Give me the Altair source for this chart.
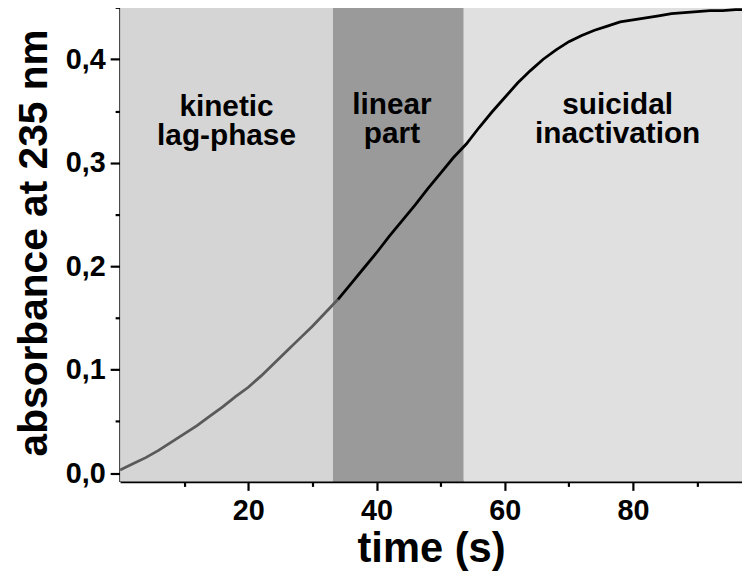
import altair as alt
import pandas as pd

# ---- data ----
time_s = [0, 2, 4, 6, 8, 10, 12, 14, 16, 18, 20, 22, 24, 26, 28, 30, 32, 34,
          36, 38, 40, 42, 44, 46, 48, 50, 52, 54, 56, 58, 60, 62, 64, 66, 68,
          70, 72, 74, 76, 78, 80, 82, 84, 86, 88, 90, 92, 94, 96, 97]
absorbance = [0.003, 0.009, 0.015, 0.022, 0.030, 0.038, 0.046, 0.055, 0.064,
              0.074, 0.083, 0.094, 0.106, 0.118, 0.130, 0.142, 0.155, 0.168,
              0.183, 0.198, 0.213, 0.229, 0.244, 0.259, 0.275, 0.290, 0.305,
              0.318, 0.334, 0.349, 0.363, 0.377, 0.389, 0.400, 0.409, 0.417,
              0.423, 0.428, 0.432, 0.436, 0.438, 0.440, 0.442, 0.444, 0.445,
              0.446, 0.447, 0.447, 0.448, 0.448]
lag_end = 34  # the trace is grey up to here, black afterwards

band_names = ["kinetic lag-phase", "linear part", "suicidal inactivation"]
band_start = [0, 33.2, 53.6]
band_end = [33.2, 53.6, 97]
band_colors = ["#d5d5d5", "#9a9a9a", "#e0e0e0"]

label_text = ["kinetic\nlag-phase", "linear\npart", "suicidal\ninactivation"]
label_t = [16.6, 42.4, 77.6]
label_a = [0.354, 0.356, 0.356]

x_ticks = [10, 20, 30, 40, 50, 60, 70, 80, 90]
y_ticks = [0.0, 0.05, 0.1, 0.15, 0.2, 0.25, 0.3, 0.35, 0.4, 0.45]

# ---- tables ----
rows = []
for t, a in zip(time_s, absorbance):
    if t <= lag_end:
        rows.append({"t": t, "a": a, "seg": "lag"})
    if t >= lag_end:
        rows.append({"t": t, "a": a, "seg": "main"})
curve = pd.DataFrame(rows)
bands = pd.DataFrame({"name": band_names, "start": band_start, "end": band_end})
labels = pd.DataFrame({"text": label_text, "t": label_t, "a": label_a})

W, H = 627, 482
FONT = "Liberation Sans"

xscale = alt.Scale(domain=[0, 97], nice=False, zero=False)
yscale = alt.Scale(domain=[-0.008, 0.454], nice=False, zero=False)

xaxis = alt.Axis(
    values=x_ticks,
    labelExpr="datum.value % 20 === 0 ? datum.label : ''",
    tickSize={"condition": {"test": "datum.value % 20 === 0", "value": 9}, "value": 5},
    tickWidth=2.2, tickColor="black",
    domainColor="black", domainWidth=2.6,
    labelFont=FONT, labelFontWeight="bold", labelFontSize=29, labelColor="black",
    labelPadding=6, labelFlush=False,
    titleFont=FONT, titleFontWeight="bold", titleFontSize=42, titleColor="black",
    titlePadding=4, grid=False,
)
yaxis = alt.Axis(
    values=y_ticks,
    labelExpr="round(datum.value * 100) % 10 === 0 ? replace(format(datum.value, '.1f'), '.', ',') : ''",
    tickSize={"condition": {"test": "round(datum.value * 100) % 10 === 0", "value": 10},
              "value": 5},
    tickWidth=2.2, tickColor="black",
    domainColor="black", domainWidth=2.6,
    labelFont=FONT, labelFontWeight="bold", labelFontSize=29, labelColor="black",
    labelPadding=5, labelFlush=False,
    titleFont=FONT, titleFontWeight="bold", titleFontSize=41, titleColor="black",
    titlePadding=10, grid=False,
)

band_layer = alt.Chart(bands).mark_rect().encode(
    x=alt.X("start:Q", scale=xscale, axis=xaxis, title="time (s)"),
    x2="end:Q",
    y=alt.value(0),
    y2=alt.value(H),
    fill=alt.Fill("name:N", scale=alt.Scale(domain=band_names, range=band_colors),
                  legend=None),
)

line_layer = alt.Chart(curve).mark_line(strokeWidth=2.8, clip=True).encode(
    x=alt.X("t:Q", scale=xscale),
    y=alt.Y("a:Q", scale=yscale, axis=yaxis, title="absorbance at 235 nm"),
    stroke=alt.Stroke("seg:N", scale=alt.Scale(domain=["lag", "main"],
                                                range=["#5a5a5a", "#000000"]),
                      legend=None),
)

text_layer = alt.Chart(labels).mark_text(
    font=FONT, fontWeight="bold", fontSize=30, color="black",
    lineBreak="\n", lineHeight=30, align="center", baseline="middle",
).encode(
    x=alt.X("t:Q", scale=xscale),
    y=alt.Y("a:Q", scale=yscale),
    text="text:N",
)

chart = alt.layer(band_layer, line_layer, text_layer).properties(
    width=W, height=H,
    autosize=alt.AutoSizeParams(type="none"),
    padding={"left": 113, "top": -7, "right": 0, "bottom": 88},
).configure_view(strokeWidth=0).configure(background="white")

chart.save("out.html", embed_options={"renderer": "svg", "actions": False})
